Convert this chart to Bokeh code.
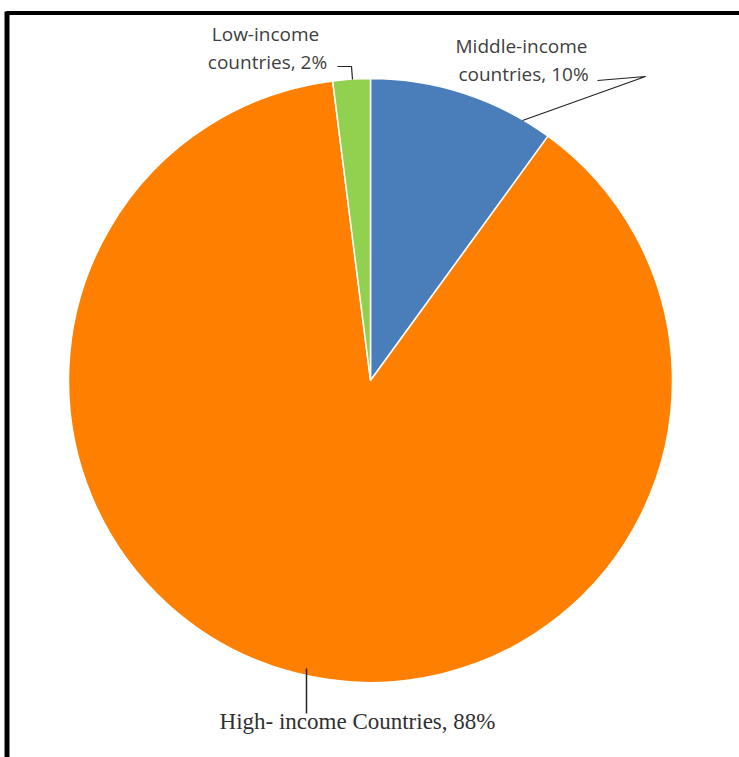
import math
from bokeh.plotting import figure
from bokeh.models import Range1d, ColumnDataSource
from bokeh.core.properties import value
from bokeh.embed import file_html
from bokeh.resources import INLINE

# ---- data ----
categories = ["Middle-income countries", "High- income Countries", "Low-income countries"]
shares = [10, 88, 2]
colors = ["#4A7EBB", "#FF8000", "#92D050"]
label_texts = [["Middle-income", "countries, 10%"], ["High- income Countries, 88%"], ["Low-income", "countries, 2%"]]

W, H = 739, 757
p = figure(width=W, height=H, output_backend="svg", toolbar_location=None,
           x_range=Range1d(0, W), y_range=Range1d(0, H), min_border=0)
p.axis.visible = False
p.grid.visible = False
p.outline_line_color = None
p.background_fill_color = "white"
p.border_fill_color = "white"

def X(ix):
    return ix
def Y(iy):
    return H - iy

cx, cy, r = X(370), Y(380), 302
total = sum(shares)
starts, ends = [], []
a = 90.0
for s in shares:
    starts.append(math.radians(a))
    a -= 360.0 * s / total
    ends.append(math.radians(a))

src = ColumnDataSource(dict(cat=categories, share=shares, color=colors, start=starts, end=ends))
p.wedge(x=cx, y=cy, radius=r, start_angle="start", end_angle="end", direction="clock",
        fill_color="color", line_color="white", line_width=1.5, source=src)

# leader lines
p.line([X(337), X(351), X(352)], [Y(66), Y(66), Y(79)], line_color="#222222", line_width=1.2)
p.line([X(597), X(645), X(522)], [Y(80), Y(76), Y(120)], line_color="#222222", line_width=1.2)
p.line([X(306), X(306)], [Y(668), Y(713)], line_color="#222222", line_width=1.5)

# labels
sans = value("Open Sans")
p.text(x=[X(265), X(267)], y=[Y(33), Y(61)], text=label_texts[2], text_font=sans,
       text_font_size="19px", text_color="#404040", text_align="center", text_baseline="middle")
p.text(x=[X(521), X(523)], y=[Y(45), Y(73)], text=label_texts[0], text_font=sans,
       text_font_size="19px", text_color="#404040", text_align="center", text_baseline="middle")
p.text(x=[X(357)], y=[Y(721)], text=label_texts[1], text_font=value("Liberation Serif"),
       text_font_size="23px", text_color="#303030", text_align="center", text_baseline="middle")

# frame lines
p.line([X(6), W], [Y(12.5), Y(12.5)], line_color="black", line_width=4)
p.line([X(6.5), X(6.5)], [Y(11), 0], line_color="black", line_width=5)

open("out.html", "w").write(file_html(p, INLINE))
